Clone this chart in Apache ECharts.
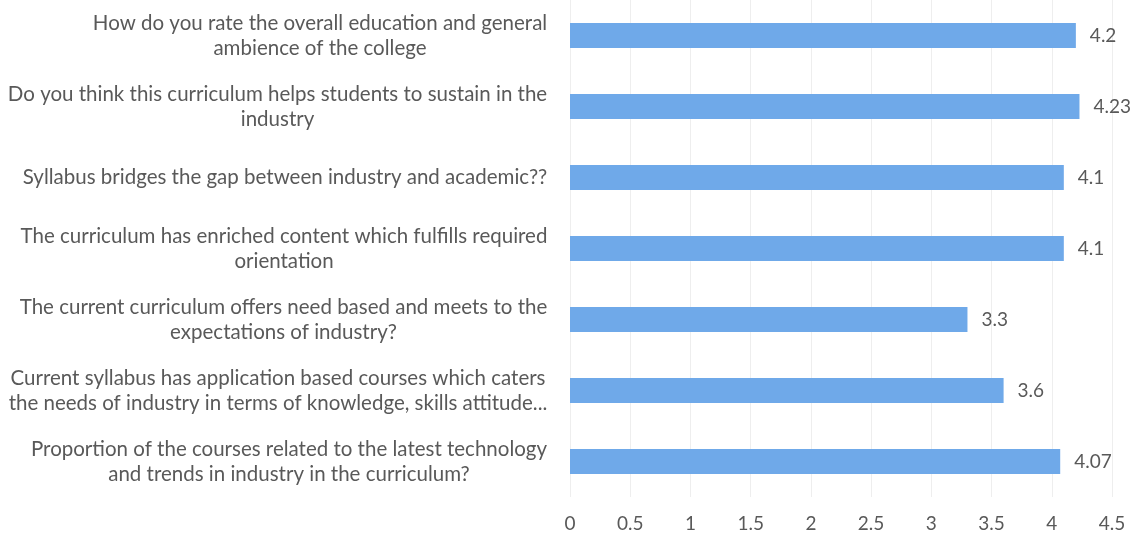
<!DOCTYPE html>
<html>
<head>
<meta charset="utf-8">
<style>html,body{margin:0;padding:0;background:#fff;}#c{width:1141px;height:537px;}</style>
<script src="https://cdn.jsdelivr.net/npm/echarts@6/dist/echarts.min.js"></script>
</head>
<body>
<div id="c"></div>
<script>
const categories = [
  "How do you rate the overall education and general\nambience of the college",
  "Do you think this curriculum helps students to sustain in the\nindustry",
  "Syllabus bridges the gap between industry and academic??",
  "The curriculum has enriched content which fulfills required\norientation",
  "The current curriculum offers need based and meets to the\nexpectations of industry?",
  "Current syllabus has application based courses which caters\nthe needs of industry in terms of knowledge, skills attitude...",
  "Proportion of the courses related to the latest technology\nand trends in industry in the curriculum?"
];
const values = [4.2, 4.23, 4.1, 4.1, 3.3, 3.6, 4.07];
const xTicks = [0, 0.5, 1, 1.5, 2, 2.5, 3, 3.5, 4, 4.5];

const FONT_FAMILY = 'Lato';
const FONT_SIZE = 20.5;
const canvas = document.createElement('canvas');
const ctx = canvas.getContext('2d');
ctx.font = FONT_SIZE + 'px ' + FONT_FAMILY;
const rich = {};
categories.forEach((c, i) => {
  const w = Math.max(...c.split('\n').map(l => ctx.measureText(l).width));
  rich['r' + i] = { width: Math.ceil(w) + 1, align: 'center', fontFamily: FONT_FAMILY, fontSize: FONT_SIZE, color: '#595959', lineHeight: 25 };
});

const chart = echarts.init(document.getElementById('c'));
chart.setOption({
  animation: false,
  grid: { left: 570, right: 29, top: -2, bottom: 40 },
  xAxis: {
    type: 'value', min: xTicks[0], max: xTicks[xTicks.length - 1], interval: 0.5,
    axisLine: { show: false }, axisTick: { show: false },
    splitLine: { show: true, lineStyle: { color: '#eeeeee', width: 1 } },
    axisLabel: { color: '#595959', fontFamily: FONT_FAMILY, fontSize: 19, margin: 17 }
  },
  yAxis: {
    type: 'category', data: categories, inverse: true,
    axisLine: { show: false }, axisTick: { show: false },
    axisLabel: {
      margin: 22, align: 'right', interval: 0,
      formatter: function (v) {
        const idx = categories.indexOf(v);
        return v.split('\n').map(l => '{r' + idx + '|' + l + '}').join('\n');
      },
      rich: rich
    }
  },
  series: [{
    type: 'bar', data: values, barWidth: 25,
    itemStyle: { color: '#6fa9e9' },
    label: { show: true, position: 'right', distance: 14, color: '#595959', fontFamily: FONT_FAMILY, fontSize: 19 }
  }]
});
</script>
</body>
</html>
